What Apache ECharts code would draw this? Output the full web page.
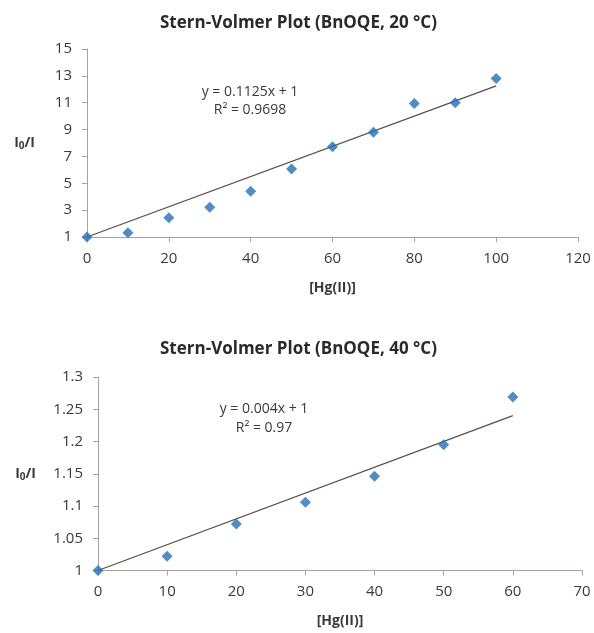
<!DOCTYPE html>
<html>
<head>
<meta charset="utf-8">
<script src="https://cdn.jsdelivr.net/npm/echarts@6/dist/echarts.min.js"></script>
<style>
html,body{margin:0;padding:0;background:#fff;}
#chart{width:594px;height:633px;}
</style>
</head>
<body>
<div id="chart"></div>
<script>
// ---- Data ----
const titleTop = 'Stern-Volmer Plot (BnOQE, 20 °C)';
const titleBot = 'Stern-Volmer Plot (BnOQE, 40 °C)';
const xName = '[Hg(II)]';

const hgTop = [0, 10, 20, 30, 40, 50, 60, 70, 80, 90, 100];
const ratioTop = [1, 1.32, 2.44, 3.21, 4.4, 6.06, 7.73, 8.8, 10.95, 11.0, 12.8];
const trendTopX = [0, 100];
const trendTopY = [1, 12.25];
const eqTop = ['y = 0.1125x + 1', 'R² = 0.9698'];

const hgBot = [0, 10, 20, 30, 40, 50, 60];
const ratioBot = [1, 1.022, 1.072, 1.106, 1.146, 1.195, 1.269];
const trendBotX = [0, 60];
const trendBotY = [1, 1.24];
const eqBot = ['y = 0.004x + 1', 'R² = 0.97'];

const yTicksTop = {min: 1, max: 15, interval: 2};
const xTicksTop = {min: 0, max: 120, interval: 20};
const yTicksBot = {min: 1, max: 1.3, interval: 0.05};
const xTicksBot = {min: 0, max: 70, interval: 10};

// ---- Styles ----
const FONT = '"Open Sans", "Liberation Sans", sans-serif';
const markerColor = '#2470b6';
const lineColor = '#5a4e48';
const axisColor = '#aaa29e';
const textColor = '#3a3a3a';

const zip = (a, b) => a.map((v, i) => [v, b[i]]);

function xAxisCfg(t, gridIndex) {
  return {
    type: 'value', gridIndex, min: t.min, max: t.max, interval: t.interval,
    name: xName, nameLocation: 'middle', nameGap: 44,
    nameTextStyle: {fontFamily: FONT, fontSize: 14, fontWeight: 'bold', color: textColor},
    axisLine: {show: true, lineStyle: {color: axisColor, width: 1}},
    axisTick: {show: true, length: 5, lineStyle: {color: axisColor}},
    axisLabel: {fontFamily: FONT, fontSize: 15, color: textColor, margin: 14},
    splitLine: {show: false}
  };
}
function yAxisCfg(t, gridIndex, gap, fmt) {
  return {
    type: 'value', gridIndex, min: t.min, max: t.max, interval: t.interval,
    name: '{a|I}{s|0}{a|/I}', nameLocation: 'middle', nameRotate: 0, nameGap: gap,
    nameTextStyle: {
      fontFamily: FONT, color: textColor,
      rich: {
        a: {fontFamily: FONT, fontSize: 14, fontWeight: 'bold', color: textColor},
        s: {fontFamily: FONT, fontSize: 10, fontWeight: 'bold', color: textColor, verticalAlign: 'bottom', padding: [6, 0, 0, 0]}
      }
    },
    axisLine: {show: true, lineStyle: {color: axisColor, width: 1}},
    axisTick: {show: true, length: 5, lineStyle: {color: axisColor}},
    axisLabel: {fontFamily: FONT, fontSize: 15, color: textColor, margin: 15, formatter: fmt},
    splitLine: {show: false}
  };
}

const chart = echarts.init(document.getElementById('chart'), null, {renderer: 'canvas'});
chart.setOption({
  backgroundColor: '#ffffff',
  animation: false,
  title: [
    {text: titleTop, left: 155, top: 10, textStyle: {fontFamily: FONT, fontSize: 17, fontWeight: 'bold', color: '#2a2a2a'}},
    {text: titleBot, left: 155, top: 336, textStyle: {fontFamily: FONT, fontSize: 17, fontWeight: 'bold', color: '#2a2a2a'}}
  ],
  grid: [
    {left: 87, right: 16, top: 49, height: 188},
    {left: 98, right: 12, top: 377, height: 193.5}
  ],
  xAxis: [xAxisCfg(xTicksTop, 0), xAxisCfg(xTicksBot, 1)],
  yAxis: [
    yAxisCfg(yTicksTop, 0, 52, v => String(v)),
    yAxisCfg(yTicksBot, 1, 62, v => String(+v.toFixed(2)))
  ],
  graphic: [
    {type: 'text', x: 250, y: 92, style: {text: eqTop[0], fontFamily: FONT, fontSize: 14, fill: textColor, align: 'center', verticalAlign: 'middle'}},
    {type: 'text', x: 250, y: 110, style: {text: eqTop[1], fontFamily: FONT, fontSize: 14, fill: textColor, align: 'center', verticalAlign: 'middle'}},
    {type: 'text', x: 264, y: 409, style: {text: eqBot[0], fontFamily: FONT, fontSize: 14, fill: textColor, align: 'center', verticalAlign: 'middle'}},
    {type: 'text', x: 264, y: 428, style: {text: eqBot[1], fontFamily: FONT, fontSize: 14, fill: textColor, align: 'center', verticalAlign: 'middle'}}
  ],
  series: [
    {type: 'line', xAxisIndex: 0, yAxisIndex: 0, data: zip(trendTopX, trendTopY), symbol: 'none',
     lineStyle: {color: lineColor, width: 1.3}, z: 2},
    {type: 'scatter', xAxisIndex: 0, yAxisIndex: 0, data: zip(hgTop, ratioTop), symbol: 'diamond', symbolSize: 11,
     itemStyle: {color: markerColor}, z: 3},
    {type: 'line', xAxisIndex: 1, yAxisIndex: 1, data: zip(trendBotX, trendBotY), symbol: 'none',
     lineStyle: {color: lineColor, width: 1.3}, z: 2},
    {type: 'scatter', xAxisIndex: 1, yAxisIndex: 1, data: zip(hgBot, ratioBot), symbol: 'diamond', symbolSize: 11,
     itemStyle: {color: markerColor}, z: 3}
  ]
});
</script>
</body>
</html>
